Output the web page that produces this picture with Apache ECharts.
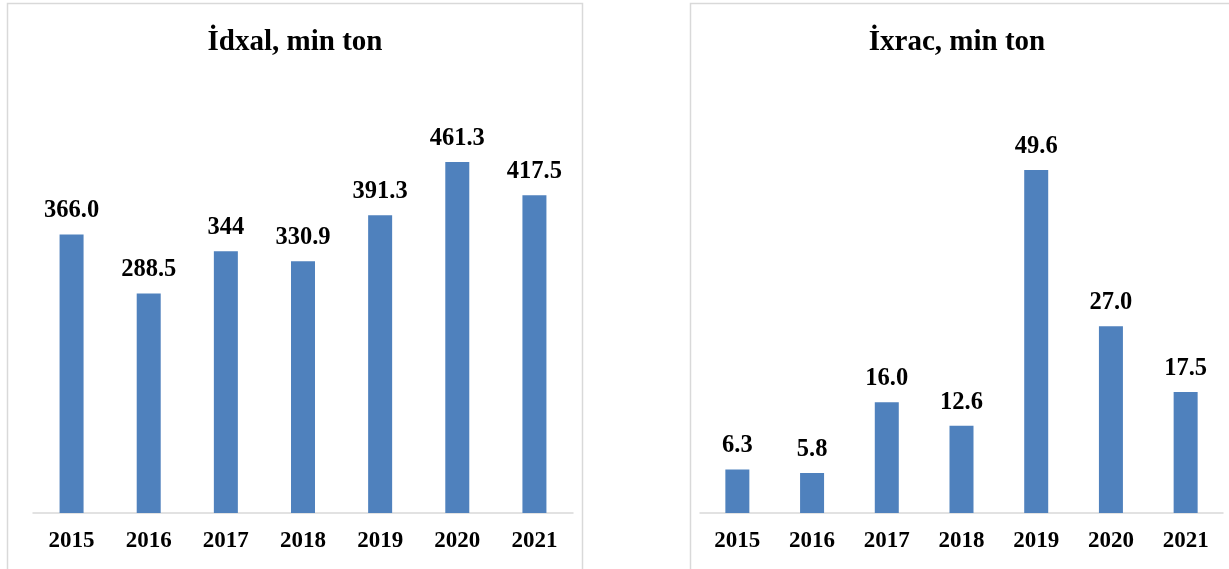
<!DOCTYPE html>
<html>
<head>
<meta charset="utf-8">
<script src="https://cdn.jsdelivr.net/npm/echarts@6/dist/echarts.min.js"></script>
<style>html,body{margin:0;padding:0;background:#fff;}#c{width:1229px;height:569px;}</style>
</head>
<body>
<div id="c"></div>
<script>
const years = ['2015','2016','2017','2018','2019','2020','2021'];
const importValues = [366.0, 288.5, 344, 330.9, 391.3, 461.3, 417.5];
const importLabels = ['366.0','288.5','344','330.9','391.3','461.3','417.5'];
const exportValues = [6.3, 5.8, 16.0, 12.6, 49.6, 27.0, 17.5];
const exportLabels = ['6.3','5.8','16.0','12.6','49.6','27.0','17.5'];
const titles = ['İdxal, min ton', 'İxrac, min ton'];

const FONT = '"Liberation Serif", "Times New Roman", serif';
const chart = echarts.init(document.getElementById('c'), null, {renderer:'canvas'});
function xAxis(gi){
  return {type:'category', gridIndex:gi, data:years,
    axisLine:{lineStyle:{color:'#d9d9d9', width:1.5}}, axisTick:{show:false},
    axisLabel:{fontFamily:FONT, fontWeight:'bold', fontSize:23, color:'#000', margin:17}};
}
function yAxis(gi,max){
  return {type:'value', gridIndex:gi, min:0, max:max, show:false, splitLine:{show:false}};
}
function series(gi, vals, labels){
  return {type:'bar', xAxisIndex:gi, yAxisIndex:gi, data:vals, barWidth:24,
    itemStyle:{color:'#4f81bd'},
    label:{show:true, position:'top', distance:11, fontFamily:FONT, fontWeight:'bold', fontSize:24.5, color:'#000',
      formatter:(p)=>labels[p.dataIndex]}};
}
chart.setOption({
  animation:false,
  title:[
    {text:titles[0], left:295, textAlign:'center', top:28, padding:0, textStyle:{fontFamily:FONT, fontWeight:'bold', fontSize:29, color:'#000'}},
    {text:titles[1], left:957, textAlign:'center', top:28, padding:0, textStyle:{fontFamily:FONT, fontWeight:'bold', fontSize:29, color:'#000'}}
  ],
  graphic:[
    {type:'rect', shape:{x:7.5, y:3.5, width:575, height:600}, style:{fill:'none', stroke:'#d9d9d9', lineWidth:1.5}, z:-1},
    {type:'rect', shape:{x:690.5, y:3.5, width:600, height:600}, style:{fill:'none', stroke:'#d9d9d9', lineWidth:1.5}, z:-1}
  ],
  grid:[
    {left:33, right:656, top:132.5, bottom:56},
    {left:700, right:6, top:98, bottom:56}
  ],
  xAxis:[xAxis(0), xAxis(1)],
  yAxis:[yAxis(0,500), yAxis(1,60)],
  series:[series(0, importValues, importLabels), series(1, exportValues, exportLabels)]
});
</script>
</body>
</html>
